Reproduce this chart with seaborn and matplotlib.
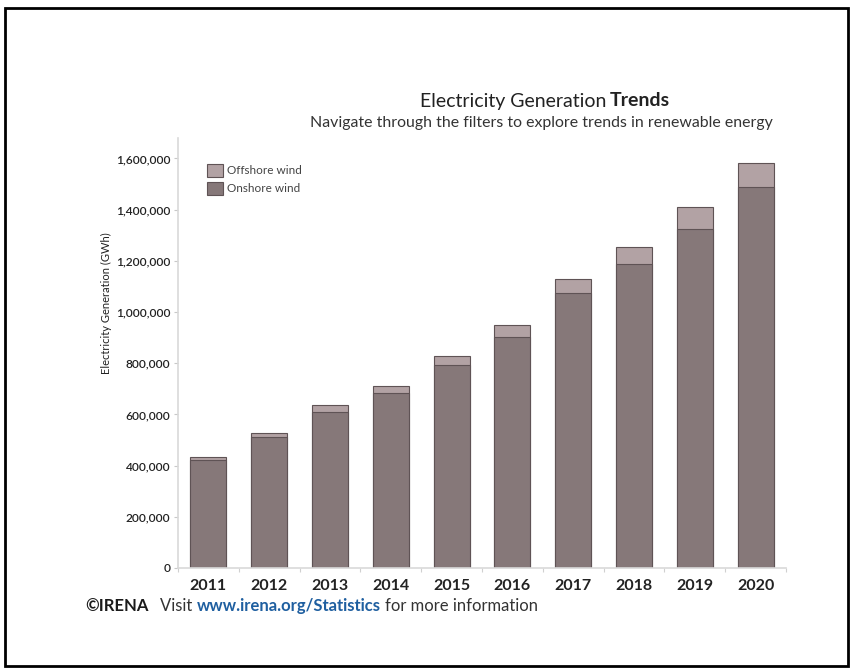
import matplotlib
matplotlib.use("Agg")
import matplotlib.pyplot as plt
import matplotlib.patches as mpatches
import matplotlib.ticker as mticker
import seaborn as sns
import pandas as pd

years = ["2011", "2012", "2013", "2014", "2015", "2016", "2017", "2018", "2019", "2020"]
onshore = [422000, 512000, 609000, 684000, 793000, 902000, 1074000, 1187000, 1324000, 1488000]
offshore = [11000, 15000, 28000, 27000, 35000, 47000, 55000, 67000, 86000, 94000]
yticks = [0, 200000, 400000, 600000, 800000, 1000000, 1200000, 1400000, 1600000]

df = pd.DataFrame({"year": years, "onshore": onshore, "offshore": offshore})
df["total"] = df["onshore"] + df["offshore"]

sns.set_theme(style="white")
plt.rcParams["font.family"] = ["Lato", "DejaVu Sans"]

W, H = 853, 672
fig = plt.figure(figsize=(W / 100, H / 100), dpi=100)
fig.patch.set_facecolor("white")


def fx(x):
    return x / W


def fy(y):
    return 1 - y / H


ax_l, ax_r, ax_t, ax_b = 178, 786, 138, 568
ax = fig.add_axes([fx(ax_l), fy(ax_b), (ax_r - ax_l) / W, (ax_b - ax_t) / H])

off_c = "#b2a2a4"
on_c = "#867879"
edge_c = "#5f5355"

sns.barplot(data=df, x="year", y="total", color=off_c, saturation=1, width=0.59,
            edgecolor=edge_c, linewidth=0.8, ax=ax)
sns.barplot(data=df, x="year", y="onshore", color=on_c, saturation=1, width=0.59,
            edgecolor=edge_c, linewidth=0.8, ax=ax)

ax.set_xlim(-0.5, len(years) - 0.5)
ax.set_ylim(0, 1680000)
ax.set_yticks(yticks)
ax.yaxis.set_major_formatter(mticker.FuncFormatter(lambda v, p: f"{int(v):,}"))
ax.set_xlabel("")
ax.set_ylabel("")

for s in ["top", "right"]:
    ax.spines[s].set_visible(False)
for s in ["left", "bottom"]:
    ax.spines[s].set_color("#d9d9d9")
    ax.spines[s].set_linewidth(1.2)

ax.tick_params(axis="y", which="major", length=3, width=0.8, color="#c8c8c8",
               labelsize=8.6, labelcolor="#222222", pad=2.5, left=True)
ax.tick_params(axis="x", which="major", length=0, labelsize=11.5, labelcolor="#222222", pad=8)
for lbl in ax.get_xticklabels():
    lbl.set_fontweight("bold")
for lbl in ax.get_yticklabels():
    lbl.set_fontweight("semibold")
ax.set_xticks([i + 0.5 for i in range(-1, len(years))], minor=True)
ax.tick_params(axis="x", which="minor", length=3, width=0.8, color="#d0d0d0", bottom=True)

handles = [mpatches.Patch(facecolor=off_c, edgecolor=edge_c, linewidth=0.8, label="Offshore wind"),
           mpatches.Patch(facecolor=on_c, edgecolor=edge_c, linewidth=0.8, label="Onshore wind")]
leg = ax.legend(handles=handles, loc="upper left", bbox_to_anchor=(0.048, 0.94), frameon=False,
                fontsize=8.5, handlelength=1.35, handleheight=1.3, handletextpad=0.3,
                labelspacing=0.45, borderaxespad=0, borderpad=0)
for t in leg.get_texts():
    t.set_color("#444444")

# y label
fig.text(fx(106), fy(303), "Electricity Generation (GWh)", rotation=90, ha="center", va="center",
         fontsize=8.0, color="#222222")

# title
fig.text(fx(606), fy(101), "Electricity Generation", ha="right", va="center", fontsize=14, color="#222222")
fig.text(fx(610), fy(101), "Trends", ha="left", va="center", fontsize=14, fontweight="bold", color="#222222")
fig.text(fx(773), fy(123), "Navigate through the filters to explore trends in renewable energy",
         ha="right", va="center", fontsize=11.4, color="#333333")

# footer
fs = 12
t1 = fig.text(fx(85), fy(606), "\u00a9IRENA", ha="left", va="center", fontsize=fs,
              fontweight="bold", color="#1a1a1a")
fig.canvas.draw()
r = fig.canvas.get_renderer()
bb = t1.get_window_extent(r)
t2 = fig.text((bb.x1 + 12) / W, fy(606), "Visit ", ha="left", va="center", fontsize=fs, color="#333333")
bb = t2.get_window_extent(r)
t3 = fig.text(bb.x1 / W, fy(606), "www.irena.org/Statistics", ha="left", va="center", fontsize=fs,
              fontweight="bold", color="#1f5fa0")
bb = t3.get_window_extent(r)
fig.text((bb.x1 + 4) / W, fy(606), "for more information", ha="left", va="center", fontsize=fs,
         color="#333333")

# outer frame
frame = mpatches.Rectangle((fx(5), fy(666)), (848 - 5) / W, (666 - 8) / H, transform=fig.transFigure,
                           fill=False, edgecolor="black", linewidth=2)
fig.patches.append(frame)

fig.savefig("out.png", dpi=100)
